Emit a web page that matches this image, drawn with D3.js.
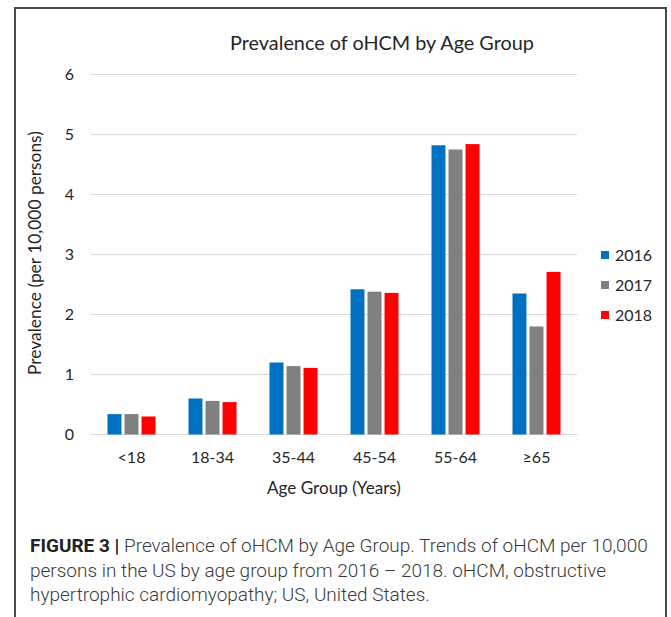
<!DOCTYPE html>
<html>
<head>
<meta charset="utf-8">
<script src="https://cdn.jsdelivr.net/npm/d3@7"></script>
<style>
  html, body { margin: 0; padding: 0; background: #fff; }
  svg { display: block; }
</style>
</head>
<body>
<svg id="chart" width="671" height="617"></svg>
<script>
const categories = ["<18", "18-34", "35-44", "45-54", "55-64", "\u226565"];
const seriesNames = ["2016", "2017", "2018"];
const values2016 = [0.34, 0.60, 1.20, 2.42, 4.82, 2.35];
const values2017 = [0.34, 0.56, 1.14, 2.38, 4.75, 1.80];
const values2018 = [0.30, 0.54, 1.11, 2.36, 4.84, 2.71];
const seriesColors = ["#0070C0", "#808080", "#FF0000"];
const yTicks = [0, 1, 2, 3, 4, 5, 6];
const chartTitle = "Prevalence of oHCM by Age Group";
const xTitle = "Age Group (Years)";
const yTitle = "Prevalence (per 10,000 persons)";
const captionBold = "FIGURE 3 |";
const captionLines = [
  " Prevalence of oHCM by Age Group. Trends of oHCM per 10,000",
  "persons in the US by age group from 2016 \u2013 2018. oHCM, obstructive",
  "hypertrophic cardiomyopathy; US, United States."
];

const seriesValues = [values2016, values2017, values2018];
const data = categories.map((c, i) => ({
  cat: c,
  vals: seriesNames.map((s, j) => ({ key: s, value: seriesValues[j][i], color: seriesColors[j] }))
}));

const svg = d3.select("#chart");
const chartFont = "Lato, 'Open Sans', sans-serif";

// outer frame
svg.append("rect")
  .attr("x", 15).attr("y", 8).attr("width", 651).attr("height", 620)
  .attr("fill", "none").attr("stroke", "#4a4a4a").attr("stroke-width", 2);

const x0 = d3.scaleBand().domain(categories).range([91, 577]).padding(0);
const x1 = d3.scaleBand().domain(seriesNames).range([16.5, 64.5]).paddingInner(0.18);
const y = d3.scaleLinear().domain([0, 6]).range([434.5, 74.5]);

// gridlines
svg.append("g")
  .selectAll("line").data(yTicks).join("line")
  .attr("x1", 91).attr("x2", 577)
  .attr("y1", d => y(d)).attr("y2", d => y(d))
  .attr("stroke", "#d9d9d9").attr("stroke-width", 1.2);

// y axis labels
const yAxis = d3.axisLeft(y).tickValues(yTicks).tickSize(0).tickPadding(0).tickFormat(d3.format("d"));
const yg = svg.append("g").attr("transform", "translate(74,0)").call(yAxis);
yg.select(".domain").remove();
yg.selectAll("text").attr("font-family", chartFont).attr("font-size", 16).attr("fill", "#262626");

// bars
const groups = svg.append("g").selectAll("g").data(data).join("g")
  .attr("transform", d => `translate(${x0(d.cat)},0)`);
groups.selectAll("rect").data(d => d.vals).join("rect")
  .attr("x", d => x1(d.key))
  .attr("width", x1.bandwidth())
  .attr("y", d => y(d.value))
  .attr("height", d => y(0) - y(d.value))
  .attr("fill", d => d.color);

// x axis labels
const xAxis = d3.axisBottom(x0).tickSize(0).tickPadding(0);
const xg = svg.append("g").attr("transform", "translate(0,458)").call(xAxis);
xg.select(".domain").remove();
xg.selectAll("text").attr("font-family", chartFont).attr("font-size", 16).attr("fill", "#262626").attr("dy", "0.32em");

function fit(sel, target) {
  const fs = parseFloat(sel.attr("font-size"));
  const w = sel.node().getComputedTextLength();
  if (w > 0) sel.attr("font-size", fs * target / w);
}

// title
const t = svg.append("text").attr("x", 382).attr("y", 50)
  .attr("text-anchor", "middle").attr("font-family", chartFont)
  .attr("font-size", 19).attr("fill", "#262626").text(chartTitle);
fit(t, 304);

// x title
const xt = svg.append("text").attr("x", 334).attr("y", 494)
  .attr("text-anchor", "middle").attr("font-family", chartFont)
  .attr("font-size", 15).attr("fill", "#262626").text(xTitle);
fit(xt, 134);

// y title
const yt = svg.append("text").attr("transform", "translate(41,253) rotate(-90)")
  .attr("text-anchor", "middle").attr("font-family", chartFont)
  .attr("font-size", 15).attr("fill", "#262626").text(yTitle);
fit(yt, 244);

// legend
const lg = svg.append("g").selectAll("g").data(seriesNames).join("g")
  .attr("transform", (d, i) => `translate(601,${255 + i * 30})`);
lg.append("rect").attr("x", 0).attr("y", -4).attr("width", 8).attr("height", 8)
  .attr("fill", (d, i) => seriesColors[i]);
lg.append("text").attr("x", 14).attr("y", 0).attr("dy", "0.35em")
  .attr("font-family", chartFont).attr("font-size", 16).attr("fill", "#262626")
  .text(d => d);

// caption
const capFont = "Roboto, 'Liberation Sans', sans-serif";
const cap = svg.append("g").attr("font-family", capFont).attr("fill", "#3a3a3a");
const l1 = cap.append("text").attr("x", 30).attr("y", 552).attr("font-size", 17);
l1.append("tspan").attr("font-weight", 700).attr("fill", "#222").text(captionBold);
l1.append("tspan").attr("font-weight", 300).text(captionLines[0]);
const w1 = l1.node().getComputedTextLength();
const capSize = 17 * 618 / w1;
l1.attr("font-size", capSize);
captionLines.slice(1).forEach((line, i) => {
  cap.append("text").attr("x", 30).attr("y", 552 + (i + 1) * 24.5)
    .attr("font-size", capSize).attr("font-weight", 300).text(line);
});
</script>
</body>
</html>
